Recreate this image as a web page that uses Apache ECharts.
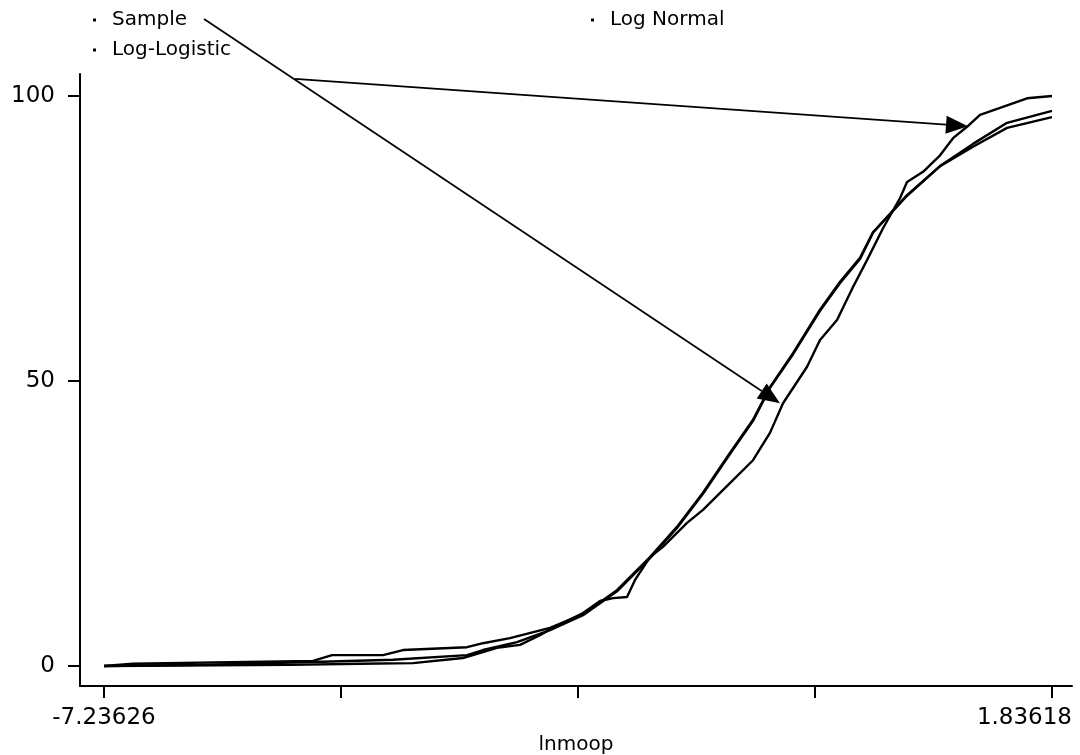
<!DOCTYPE html>
<html lang="en">
<head>
<meta charset="UTF-8">
<title>lnmoop</title>
<script src="https://cdn.jsdelivr.net/npm/echarts@6/dist/echarts.min.js"></script>
<style>
    html, body { margin: 0; padding: 0; background: #fff; }
    #main { width: 1080px; height: 755px; }
</style>
</head>
<body>
<div id="main"></div>
<script>
    // cumulative percent against lnmoop
    var sampleX = [-7.236, -5.456, -4.786, -4.279, -3.801, -3.475, -3.255, -3.064, -2.939, -2.652, -2.489, -2.365, -2.231, -2.154, -2.011, -1.887, -1.657, -1.504, -1.246, -1.025, -0.863, -0.738, -0.508, -0.384, -0.221, -0.068, 0.066, 0.219, 0.382, 0.449, 0.602, 0.765, 0.889, 1.023, 1.147, 1.339, 1.597, 1.836];
    var sampleY = [0, 0.2, 0.4, 0.5, 1.4, 3.2, 3.7, 5.4, 6.7, 9.3, 11.4, 11.9, 12.1, 15.1, 19.1, 20.9, 25.1, 27.4, 32.1, 36.1, 40.9, 46.1, 52.5, 57.2, 60.7, 66.5, 71.2, 76.8, 82.1, 84.9, 86.7, 89.6, 92.6, 94.6, 96.7, 97.9, 99.6, 100];

    var normalX = [-7.236, -6.318, -5.236, -4.471, -3.762, -3.609, -3.284, -2.968, -2.652, -2.327, -2.011, -1.753, -1.504, -1.246, -1.025, -0.863, -0.642, -0.384, -0.192, -0.001, 0.123, 0.449, 0.765, 1.080, 1.406, 1.836];
    var normalY = [0, 0.2, 0.7, 1.1, 1.9, 2.8, 4.2, 6.3, 8.9, 13.1, 18.9, 24.2, 30.2, 37.2, 43.0, 48.8, 54.7, 62.3, 67.2, 71.4, 76.0, 82.5, 87.7, 91.6, 95.3, 97.4];

    var logisticX = [-7.236, -6.959, -5.236, -5.054, -4.566, -4.375, -3.762, -3.609, -3.351, -2.968, -2.652, -2.327, -2.011, -1.753, -1.504, -1.246, -1.025, -0.863, -0.642, -0.384, -0.192, -0.001, 0.123, 0.449, 0.765, 1.080, 1.406, 1.836];
    var logisticY = [0, 0.4, 0.9, 1.9, 1.9, 2.8, 3.3, 4.0, 4.9, 6.7, 9.1, 13.3, 19.1, 24.4, 30.4, 37.4, 43.2, 48.9, 54.9, 62.5, 67.4, 71.6, 76.1, 82.6, 87.7, 91.1, 94.4, 96.3];

    // axis ticks
    var xTicks = [-7.23626, -4.96815, -2.70004, -0.43193, 1.83618];
    var xTickLabels = ['-7.23626', '1.83618'];
    var yTicks = [0, 50, 100];

    // arrows: from legend area to points on the sample curve
    var arrowFrom = [[-6.279, 113.5], [-5.408, 103.0]];
    var arrowTo = [[-0.767, 46.1], [1.032, 94.7]];

    function zip(xs, ys) {
        var out = [];
        for (var i = 0; i < xs.length; i++) out.push([xs[i], ys[i]]);
        return out;
    }

    var font = 'DejaVu Sans';
    var xMin = -7.46594, xMax = 2.02758;

    var myChart = echarts.init(document.getElementById('main'), null, { renderer: 'canvas' });

    var lineStyle = { color: '#000', width: 2.4 };
    var legendBase = {
        icon: 'rect',
        itemWidth: 3,
        itemHeight: 3,
        textStyle: { fontFamily: font, fontSize: 20, color: '#000', padding: [0, 0, 0, 11] }
    };

    var option = {
        animation: false,
        backgroundColor: '#fff',
        color: ['#000', '#000', '#000'],
        legend: [
            Object.assign({ data: ['Sample'], left: 88, top: 5 }, legendBase),
            Object.assign({ data: ['Log Normal'], left: 586, top: 5 }, legendBase),
            Object.assign({ data: ['Log-Logistic'], left: 88, top: 35 }, legendBase)
        ],
        grid: { left: 80, right: 8, top: 74, bottom: 69, outerBoundsMode: 'none', containLabel: false },
        xAxis: {
            type: 'value',
            min: xMin,
            max: xMax,
            name: 'lnmoop',
            nameLocation: 'middle',
            nameGap: 47,
            nameTextStyle: { fontFamily: font, fontSize: 20, color: '#000' },
            axisLine: { onZero: false, lineStyle: { color: '#000', width: 2 } },
            axisTick: { length: 12, lineStyle: { color: '#000', width: 2 }, customValues: xTicks },
            axisLabel: {
                fontFamily: font, fontSize: 23, color: '#000', margin: 21,
                customValues: [xTicks[0], xMax],
                alignMaxLabel: 'right',
                formatter: function (v) { return v < 0 ? xTickLabels[0] : xTickLabels[1]; }
            },
            splitLine: { show: false }
        },
        yAxis: {
            type: 'value',
            min: -3.509,
            max: 103.86,
            axisLine: { show: true, onZero: false, lineStyle: { color: '#000', width: 2 } },
            axisTick: { show: true, length: 12, lineStyle: { color: '#000', width: 2 }, customValues: yTicks },
            axisLabel: { fontFamily: font, fontSize: 23, color: '#000', margin: 25, customValues: yTicks },
            splitLine: { show: false }
        },
        series: [
            { name: 'Sample', type: 'line', symbol: 'none', lineStyle: lineStyle, data: zip(sampleX, sampleY) },
            { name: 'Log Normal', type: 'line', symbol: 'none', lineStyle: lineStyle, data: zip(normalX, normalY) },
            { name: 'Log-Logistic', type: 'line', symbol: 'none', lineStyle: lineStyle, data: zip(logisticX, logisticY) }
        ]
    };
    myChart.setOption(option);

    // arrow annotations, placed through the chart's own coordinate system
    function arrowGraphics() {
        var out = [];
        for (var i = 0; i < arrowFrom.length; i++) {
            var a = myChart.convertToPixel({ gridIndex: 0 }, arrowFrom[i]);
            var b = myChart.convertToPixel({ gridIndex: 0 }, arrowTo[i]);
            var dx = b[0] - a[0], dy = b[1] - a[1];
            var len = Math.sqrt(dx * dx + dy * dy);
            var ux = dx / len, uy = dy / len;
            var bx = b[0] - ux * 22, by = b[1] - uy * 22;
            out.push({ type: 'line', z: 10, shape: { x1: a[0], y1: a[1], x2: bx, y2: by }, style: { stroke: '#000', lineWidth: 1.7 } });
            out.push({ type: 'polygon', z: 10, shape: { points: [[b[0], b[1]], [bx - uy * 9, by + ux * 9], [bx + uy * 9, by - ux * 9]] }, style: { fill: '#000' } });
        }
        return out;
    }
    myChart.setOption({ graphic: arrowGraphics() });
</script>
</body>
</html>
